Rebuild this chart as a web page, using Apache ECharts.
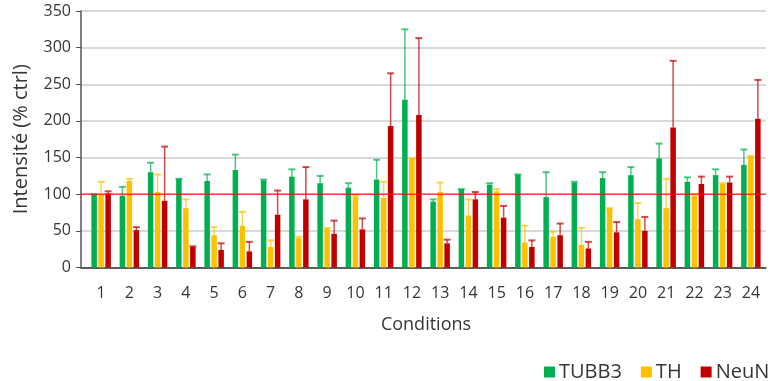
<!DOCTYPE html>
<html>
<head>
<meta charset="utf-8">
<script src="https://cdn.jsdelivr.net/npm/echarts@6/dist/echarts.min.js"></script>
<style>
  html, body { margin: 0; padding: 0; background: #fff; }
  #chart { width: 771px; height: 381px; }
</style>
</head>
<body>
<div id="chart"></div>
<script>
// data
const conditions = ['1','2','3','4','5','6','7','8','9','10','11','12','13','14','15','16','17','18','19','20','21','22','23','24'];
const tubb3 = [100, 98, 130, 121, 118, 133, 119, 124, 115, 109, 120, 229, 90, 107, 113, 127, 96, 116, 122, 126, 149, 117, 126, 140];
const tubb3Err = [0, 12, 13, 0, 9, 21, 1, 10, 10, 6, 27, 96, 3, 0, 2, 0, 34, 1, 8, 11, 20, 6, 8, 21];
const th = [100, 118, 103, 81, 44, 57, 28, 40, 53, 97, 95, 149, 103, 71, 104, 34, 42, 31, 81, 66, 81, 98, 114, 152];
const thErr = [17, 3, 24, 12, 11, 19, 9, 2, 1, 2, 22, 0, 13, 22, 3, 23, 7, 23, 0, 22, 40, 2, 1, 0];
const neun = [101, 51, 91, 28, 24, 22, 72, 93, 46, 52, 193, 208, 33, 93, 68, 28, 44, 26, 48, 50, 191, 114, 116, 203];
const neunErr = [3, 4, 74, 1, 9, 13, 33, 44, 18, 15, 72, 105, 5, 10, 16, 9, 16, 9, 14, 19, 91, 10, 8, 53];
const yTicks = [0, 50, 100, 150, 200, 250, 300, 350];
const refLevel = 100; // ligne ctrl

const FONT = '"Open Sans", "Noto Sans", sans-serif';
const TXT = '#363636';
const BAR_W = 5.5;
const GAP = 1.5;

const chart = echarts.init(document.getElementById('chart'), null, { renderer: 'canvas' });

function errData(vals, errs) {
    return vals.map((v, i) => [i, v, v + errs[i]]);
}

// barre d'erreur (haut seulement), decalee sur la barre de la serie
function errorItem(offset, color) {
    return function (params, api) {
        const base = api.coord([api.value(0), api.value(1)]);
        const top = api.coord([api.value(0), api.value(2)]);
        const cx = base[0] + offset;
        return {
            type: 'group',
            children: [
                { type: 'line', shape: { x1: cx, y1: base[1], x2: cx, y2: top[1] },
                  style: { stroke: color, lineWidth: 1.5 } },
                { type: 'line', shape: { x1: cx - 3.5, y1: top[1], x2: cx + 3.5, y2: top[1] },
                  style: { stroke: color, lineWidth: 2 } }
            ]
        };
    };
}

const step = BAR_W + GAP;

const option = {
    animation: false,
    textStyle: { fontFamily: FONT },
    grid: [
        { left: 81, right: 5, top: 11, bottom: 113.5, containLabel: false },
        { left: 87, right: 6, top: 11, bottom: 113.5, containLabel: false }
    ],
    legend: {
        data: ['TUBB3', 'TH', 'NeuN'],
        left: 544,
        top: 362,
        width: 227,
        padding: 0,
        icon: 'rect',
        itemWidth: 11,
        itemHeight: 11,
        itemGap: 19,
        textStyle: { fontSize: 20, color: TXT, fontFamily: FONT, padding: [0, 0, 0, -1] }
    },
    xAxis: [
        {
            type: 'value', gridIndex: 0, min: 0, max: 1,
            axisLine: { show: true, lineStyle: { color: '#333', width: 1.5 } },
            axisTick: { show: false }, axisLabel: { show: false }, splitLine: { show: false }
        },
        {
            type: 'category', gridIndex: 1, data: conditions,
            axisLine: { show: false }, axisTick: { show: false },
            axisLabel: { fontSize: 16, color: TXT, margin: 18, fontFamily: FONT },
            name: 'Conditions', nameLocation: 'middle', nameGap: 48,
            nameTextStyle: { fontSize: 18, color: TXT, fontFamily: FONT }
        }
    ],
    yAxis: [
        {
            type: 'value', gridIndex: 0, min: yTicks[0], max: yTicks[yTicks.length - 1], interval: 50,
            axisLine: { show: true, lineStyle: { color: '#555', width: 1.5 } },
            axisTick: { show: true, length: 5, lineStyle: { color: '#555' } },
            axisLabel: { fontSize: 16, color: TXT, margin: 10, fontFamily: FONT },
            splitLine: { show: true, lineStyle: { color: '#d9d9d9', width: 2 } },
            name: 'Intensité (% ctrl)', nameLocation: 'middle', nameGap: 50, nameRotate: 90,
            nameTextStyle: { fontSize: 20, color: TXT, fontFamily: FONT }
        },
        {
            type: 'value', gridIndex: 1, min: yTicks[0], max: yTicks[yTicks.length - 1],
            show: false, splitLine: { show: false }
        }
    ],
    series: [
        {
            name: 'TUBB3', type: 'bar', xAxisIndex: 1, yAxisIndex: 1,
            data: tubb3, barWidth: BAR_W, barGap: (GAP / BAR_W * 100) + '%',
            itemStyle: { color: '#00b050' }
        },
        {
            name: 'TH', type: 'bar', xAxisIndex: 1, yAxisIndex: 1,
            data: th, barWidth: BAR_W, barGap: (GAP / BAR_W * 100) + '%',
            itemStyle: { color: '#ffc000' }
        },
        {
            name: 'NeuN', type: 'bar', xAxisIndex: 1, yAxisIndex: 1,
            data: neun, barWidth: BAR_W, barGap: (GAP / BAR_W * 100) + '%',
            itemStyle: { color: '#c00000' }
        },
        {
            type: 'custom', xAxisIndex: 1, yAxisIndex: 1, z: 5, silent: true,
            renderItem: errorItem(-step, 'rgba(0,176,80,0.7)'),
            encode: { x: 0, y: [1, 2] }, data: errData(tubb3, tubb3Err)
        },
        {
            type: 'custom', xAxisIndex: 1, yAxisIndex: 1, z: 5, silent: true,
            renderItem: errorItem(0, 'rgba(255,192,0,0.7)'),
            encode: { x: 0, y: [1, 2] }, data: errData(th, thErr)
        },
        {
            type: 'custom', xAxisIndex: 1, yAxisIndex: 1, z: 5, silent: true,
            renderItem: errorItem(step, 'rgba(192,0,0,0.7)'),
            encode: { x: 0, y: [1, 2] }, data: errData(neun, neunErr)
        },
        {
            type: 'line', xAxisIndex: 0, yAxisIndex: 0, z: 6, silent: true,
            data: [[0, refLevel], [1, refLevel]], symbol: 'none',
            lineStyle: { color: '#ff0000', width: 1 }
        }
    ]
};

chart.setOption(option);
</script>
</body>
</html>
